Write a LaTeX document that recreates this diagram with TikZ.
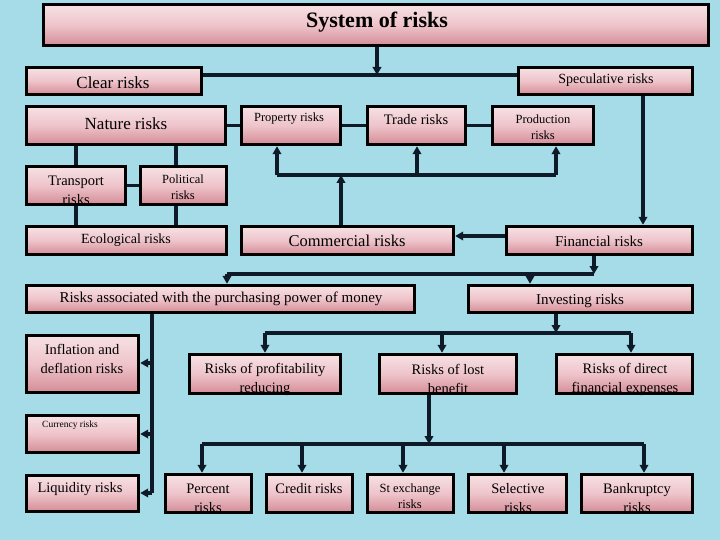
\documentclass[tikz,border=0pt]{standalone}
\usepackage{fontspec}
\setmainfont{Liberation Serif}
\usetikzlibrary{arrows.meta}
\pgfdeclarelayer{bg}
\pgfdeclarelayer{lines}
\pgfsetlayers{bg,lines,main}
\definecolor{sky}{HTML}{A6DCE7}
\definecolor{pinkL}{HTML}{F6E1E4}
\definecolor{pinkM}{HTML}{EEC4CA}
\definecolor{pinkD}{HTML}{D48C97}
\definecolor{navy}{HTML}{0F1A28}
\tikzset{
  box/.style={draw=black, line width=3.4pt, rectangle, inner sep=0pt,
    top color=pinkL, bottom color=pinkD, middle color=pinkM},
  ln/.style={draw=navy, line width=3.2pt},
  arr/.style={ln, -{Triangle[length=8pt,width=8.5pt]}},
  txt/.style={align=center, inner sep=0pt, text=black},
}
\newcommand\fsz[2]{\fontsize{#1}{#2}\selectfont}
\begin{document}
\begin{tikzpicture}[x=1pt,y=-1pt]
\begin{pgfonlayer}{bg}
\fill[sky] (0,0) rectangle (720,540);
\end{pgfonlayer}
\useasboundingbox (0,0) rectangle (720,540);

% boxes
\node[box, minimum width=665pt, minimum height=41pt] (title) at (376,25) {};
\node[box, minimum width=175pt, minimum height=27pt] (clear) at (114,81) {};
\node[box, minimum width=174pt, minimum height=27pt] (spec) at (605.5,81) {};
\node[box, minimum width=199pt, minimum height=38pt] (nature) at (126,125.5) {};
\node[box, minimum width=99pt, minimum height=38pt] (property) at (291,125.5) {};
\node[box, minimum width=98pt, minimum height=38pt] (trade) at (416.5,125.5) {};
\node[box, minimum width=101pt, minimum height=38pt] (production) at (543,125.5) {};
\node[box, minimum width=99pt, minimum height=38pt] (transport) at (76,185.5) {};
\node[box, minimum width=86pt, minimum height=38pt] (political) at (183.5,185.5) {};
\node[box, minimum width=200pt, minimum height=28pt] (ecological) at (126.5,240.5) {};
\node[box, minimum width=212pt, minimum height=28pt] (commercial) at (347.5,240.5) {};
\node[box, minimum width=186pt, minimum height=28pt] (financial) at (599.5,240.5) {};
\node[box, minimum width=388pt, minimum height=27pt] (assoc) at (220.5,299) {};
\node[box, minimum width=224pt, minimum height=27pt] (investing) at (580.5,299) {};
\node[box, minimum width=112pt, minimum height=57pt] (inflation) at (82.5,364) {};
\node[box, minimum width=151pt, minimum height=39pt] (profit) at (265,374) {};
\node[box, minimum width=137pt, minimum height=39pt] (lost) at (448,374) {};
\node[box, minimum width=136pt, minimum height=39pt] (direct) at (624.5,374) {};
\node[box, minimum width=112pt, minimum height=37pt] (currency) at (82.5,434) {};
\node[box, minimum width=112pt, minimum height=36pt] (liquidity) at (82.5,493.5) {};
\node[box, minimum width=86pt, minimum height=38pt] (percent) at (208.5,493.5) {};
\node[box, minimum width=86pt, minimum height=38pt] (credit) at (309.5,493.5) {};
\node[box, minimum width=86pt, minimum height=38pt] (stex) at (410.5,493.5) {};
\node[box, minimum width=98pt, minimum height=38pt] (selective) at (517.5,493.5) {};
\node[box, minimum width=111pt, minimum height=38pt] (bankruptcy) at (637,493.5) {};

% texts
\node[txt, font=\fsz{22}{26}\bfseries] (t-title) at (377,22) {System of risks};
\node[txt, font=\fsz{17}{20}] (t-clear) at (113,83) {Clear risks};
\node[txt, font=\fsz{14}{17}] (t-spec) at (606,80) {Speculative risks};
\node[txt, font=\fsz{17}{20}] (t-nature) at (126,124) {Nature risks};
\node[txt, font=\fsz{12.5}{16}] (t-property) at (289,119) {Property risks};
\node[txt, font=\fsz{14.5}{19}] (t-trade) at (416,120) {Trade risks};
\node[txt, font=\fsz{12.5}{16}] (t-production) at (543,127) {Production\\risks};
\node[txt, font=\fsz{14.5}{19}] (t-transport) at (76,190.5) {Transport\\risks};
\node[txt, font=\fsz{12.5}{16}] (t-political) at (183,187) {Political\\risks};
\node[txt, font=\fsz{14}{17}] (t-ecological) at (126,240) {Ecological risks};
\node[txt, font=\fsz{16.5}{19}] (t-commercial) at (347,241) {Commercial risks};
\node[txt, font=\fsz{15}{18}] (t-financial) at (599,241) {Financial risks};
\node[txt, font=\fsz{15}{18}] (t-assoc) at (221,299) {Risks associated with the purchasing power of money};
\node[txt, font=\fsz{15}{18}] (t-investing) at (580,301) {Investing risks};
\node[txt, font=\fsz{14.5}{19}] (t-inflation) at (82,358.5) {Inflation and\\deflation risks};
\node[txt, font=\fsz{14.5}{19}] (t-profit) at (265,379) {Risks of profitability\\reducing};
\node[txt, font=\fsz{14.5}{19}] (t-lost) at (448,379) {Risks of lost\\benefit};
\node[txt, font=\fsz{14.5}{19}] (t-direct) at (625,379) {Risks of direct\\financial expenses};
\node[txt, font=\fsz{9.5}{11}] (t-currency) at (70,425) {Currency risks};
\node[txt, font=\fsz{14.5}{19}] (t-liquidity) at (80,489) {Liquidity risks};
\node[txt, font=\fsz{14.5}{19}] (t-percent) at (208,498.5) {Percent\\risks};
\node[txt, font=\fsz{14.5}{19}] (t-credit) at (309,489) {Credit risks};
\node[txt, font=\fsz{12.5}{16}] (t-stex) at (410,496) {St exchange\\risks};
\node[txt, font=\fsz{14.5}{19}] (t-selective) at (518,498.5) {Selective\\risks};
\node[txt, font=\fsz{14.5}{19}] (t-bankruptcy) at (637,498.5) {Bankruptcy\\risks};

% connectors
\begin{pgfonlayer}{lines}
\coordinate (b1) at (377,75);
\draw[ln] (clear.east |- b1) -- (spec.west |- b1);
\draw[arr] (title.south -| b1) -- (b1);
\draw[ln] (nature.east) -- (property.west);
\draw[ln] (property.east) -- (trade.west);
\draw[ln] (trade.east) -- (production.west);
\coordinate (xs) at (643,0);
\draw[arr] (spec.south -| xs) -- (financial.north -| xs);
\coordinate (xa) at (76,0);
\coordinate (xb) at (176,0);
\draw[ln] (nature.south -| xa) -- (ecological.north -| xa);
\draw[ln] (nature.south -| xb) -- (ecological.north -| xb);
\draw[ln] (transport.east) -- (political.west);
% commercial bus
\coordinate (c1) at (341,175);
\coordinate (p1) at (277,175);
\coordinate (p2) at (417,175);
\coordinate (p3) at (556,175);
\draw[ln] (p1) -- (p3);
\draw[arr] (commercial.north -| c1) -- (c1);
\draw[arr] (p1) -- (property.south -| p1);
\draw[arr] (p2) -- (trade.south -| p2);
\draw[arr] (p3) -- (production.south -| p3);
% financial -> commercial
\coordinate (fy) at (0,236);
\draw[arr] (financial.west |- fy) -- (commercial.east |- fy);
% financial bus
\coordinate (f1) at (594,274);
\coordinate (q1) at (227,274);
\coordinate (q2) at (530,274);
\draw[ln] (q1) -- (f1);
\draw[arr] (financial.south -| f1) -- (f1);
\draw[arr] (q1) -- (assoc.north -| q1);
\draw[arr] (q2) -- (investing.north -| q2);
% assoc vertical
\coordinate (v0) at (152,0);
\coordinate (v1) at (152,363);
\coordinate (v2) at (152,434);
\coordinate (v3) at (152,493);
\draw[ln] (assoc.south -| v0) -- (v3);
\draw[arr] (v1) -- (inflation.east |- v1);
\draw[arr] (v2) -- (currency.east |- v2);
\draw[arr] (v3) -- (liquidity.east |- v3);
% investing bus
\coordinate (i0) at (556,333);
\coordinate (r1) at (265,333);
\coordinate (r2) at (442,333);
\coordinate (r3) at (631,333);
\draw[ln] (r1) -- (r3);
\draw[arr] (investing.south -| i0) -- (i0);
\draw[arr] (r1) -- (profit.north -| r1);
\draw[arr] (r2) -- (lost.north -| r2);
\draw[arr] (r3) -- (direct.north -| r3);
% lost benefit bus
\coordinate (l0) at (429,444);
\coordinate (s1) at (202,444);
\coordinate (s2) at (302,444);
\coordinate (s3) at (403,444);
\coordinate (s4) at (504,444);
\coordinate (s5) at (644,444);
\draw[ln] (s1) -- (s5);
\draw[arr] (lost.south -| l0) -- (l0);
\draw[arr] (s1) -- (percent.north -| s1);
\draw[arr] (s2) -- (credit.north -| s2);
\draw[arr] (s3) -- (stex.north -| s3);
\draw[arr] (s4) -- (selective.north -| s4);
\draw[arr] (s5) -- (bankruptcy.north -| s5);
\end{pgfonlayer}
\end{tikzpicture}
\end{document}
